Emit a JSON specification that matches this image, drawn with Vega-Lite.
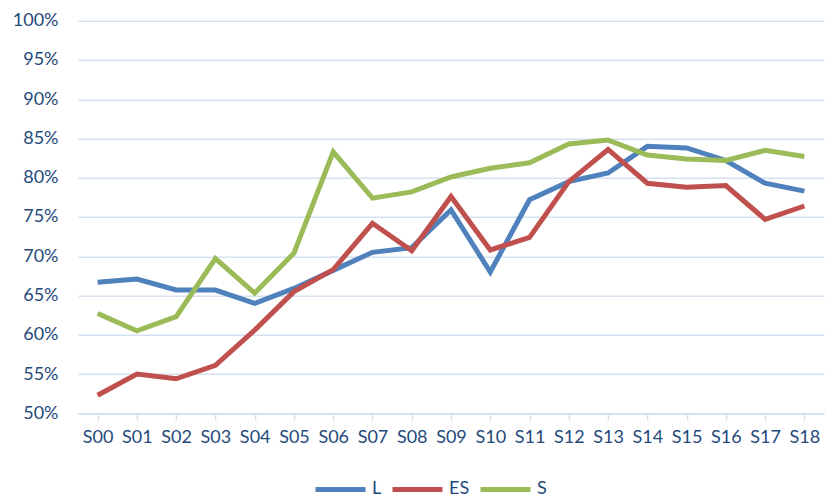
{
  "$schema": "https://vega.github.io/schema/vega-lite/v6.json",
  "autosize": {"type": "none"},
  "padding": {"left": 78, "top": 20.7, "right": 1, "bottom": 83},
  "width": 746,
  "height": 392.6,
  "background": "white",
  "config": {
    "view": {"stroke": null},
    "font": "Lato",
    "axis": {"labelFont": "Lato", "labelColor": "#24497B", "labelFontSize": 18}
  },
  "data": {
    "values": [
      {"s": "S00", "series": "L", "v": 0.667}, {"s": "S01", "series": "L", "v": 0.671}, {"s": "S02", "series": "L", "v": 0.657}, {"s": "S03", "series": "L", "v": 0.657}, {"s": "S04", "series": "L", "v": 0.640}, {"s": "S05", "series": "L", "v": 0.659}, {"s": "S06", "series": "L", "v": 0.682}, {"s": "S07", "series": "L", "v": 0.705}, {"s": "S08", "series": "L", "v": 0.711}, {"s": "S09", "series": "L", "v": 0.759}, {"s": "S10", "series": "L", "v": 0.680}, {"s": "S11", "series": "L", "v": 0.772}, {"s": "S12", "series": "L", "v": 0.795}, {"s": "S13", "series": "L", "v": 0.806}, {"s": "S14", "series": "L", "v": 0.840}, {"s": "S15", "series": "L", "v": 0.838}, {"s": "S16", "series": "L", "v": 0.822}, {"s": "S17", "series": "L", "v": 0.793}, {"s": "S18", "series": "L", "v": 0.783},
      {"s": "S00", "series": "ES", "v": 0.523}, {"s": "S01", "series": "ES", "v": 0.550}, {"s": "S02", "series": "ES", "v": 0.544}, {"s": "S03", "series": "ES", "v": 0.561}, {"s": "S04", "series": "ES", "v": 0.606}, {"s": "S05", "series": "ES", "v": 0.655}, {"s": "S06", "series": "ES", "v": 0.683}, {"s": "S07", "series": "ES", "v": 0.742}, {"s": "S08", "series": "ES", "v": 0.707}, {"s": "S09", "series": "ES", "v": 0.776}, {"s": "S10", "series": "ES", "v": 0.708}, {"s": "S11", "series": "ES", "v": 0.724}, {"s": "S12", "series": "ES", "v": 0.795}, {"s": "S13", "series": "ES", "v": 0.836}, {"s": "S14", "series": "ES", "v": 0.793}, {"s": "S15", "series": "ES", "v": 0.788}, {"s": "S16", "series": "ES", "v": 0.790}, {"s": "S17", "series": "ES", "v": 0.747}, {"s": "S18", "series": "ES", "v": 0.764},
      {"s": "S00", "series": "S", "v": 0.627}, {"s": "S01", "series": "S", "v": 0.605}, {"s": "S02", "series": "S", "v": 0.623}, {"s": "S03", "series": "S", "v": 0.697}, {"s": "S04", "series": "S", "v": 0.653}, {"s": "S05", "series": "S", "v": 0.704}, {"s": "S06", "series": "S", "v": 0.833}, {"s": "S07", "series": "S", "v": 0.774}, {"s": "S08", "series": "S", "v": 0.782}, {"s": "S09", "series": "S", "v": 0.801}, {"s": "S10", "series": "S", "v": 0.812}, {"s": "S11", "series": "S", "v": 0.819}, {"s": "S12", "series": "S", "v": 0.843}, {"s": "S13", "series": "S", "v": 0.848}, {"s": "S14", "series": "S", "v": 0.829}, {"s": "S15", "series": "S", "v": 0.824}, {"s": "S16", "series": "S", "v": 0.822}, {"s": "S17", "series": "S", "v": 0.835}, {"s": "S18", "series": "S", "v": 0.827}
    ]
  },
  "mark": {"type": "line", "strokeWidth": 5, "strokeJoin": "miter", "strokeCap": "butt"},
  "encoding": {
    "x": {
      "field": "s", "type": "nominal", "title": null,
      "scale": {"paddingInner": 0, "paddingOuter": 0},
      "axis": {
        "labelAngle": 0, "bandPosition": 0, "domainColor": "#D5E1EF", "domainWidth": 1.5,
        "tickColor": "#D5E1EF", "tickWidth": 1.5, "tickSize": 7, "labelPadding": 8, "grid": false,
        "labelBound": false
      }
    },
    "y": {
      "field": "v", "type": "quantitative", "title": null,
      "scale": {"domain": [0.5, 1.0], "nice": false, "zero": false},
      "axis": {
        "values": [0.5, 0.55, 0.6, 0.65, 0.7, 0.75, 0.8, 0.85, 0.9, 0.95, 1.0],
        "format": ".0%", "domain": false, "ticks": false, "labelPadding": 20,
        "gridColor": "#D5E1EF", "gridWidth": 1.5, "gridOpacity": 1
      }
    },
    "color": {
      "field": "series", "type": "nominal", "title": null,
      "scale": {"domain": ["L", "ES", "S"], "range": ["#4F81BD", "#C0504D", "#9BBB59"]},
      "legend": {
        "orient": "none", "direction": "horizontal", "legendX": 235, "legendY": 441,
        "symbolType": "stroke", "symbolSize": 2500, "symbolStrokeWidth": 5,
        "labelFontSize": 18, "labelColor": "#24497B", "labelFont": "Lato",
        "columnPadding": 0, "labelOffset": 4
      }
    }
  }
}
